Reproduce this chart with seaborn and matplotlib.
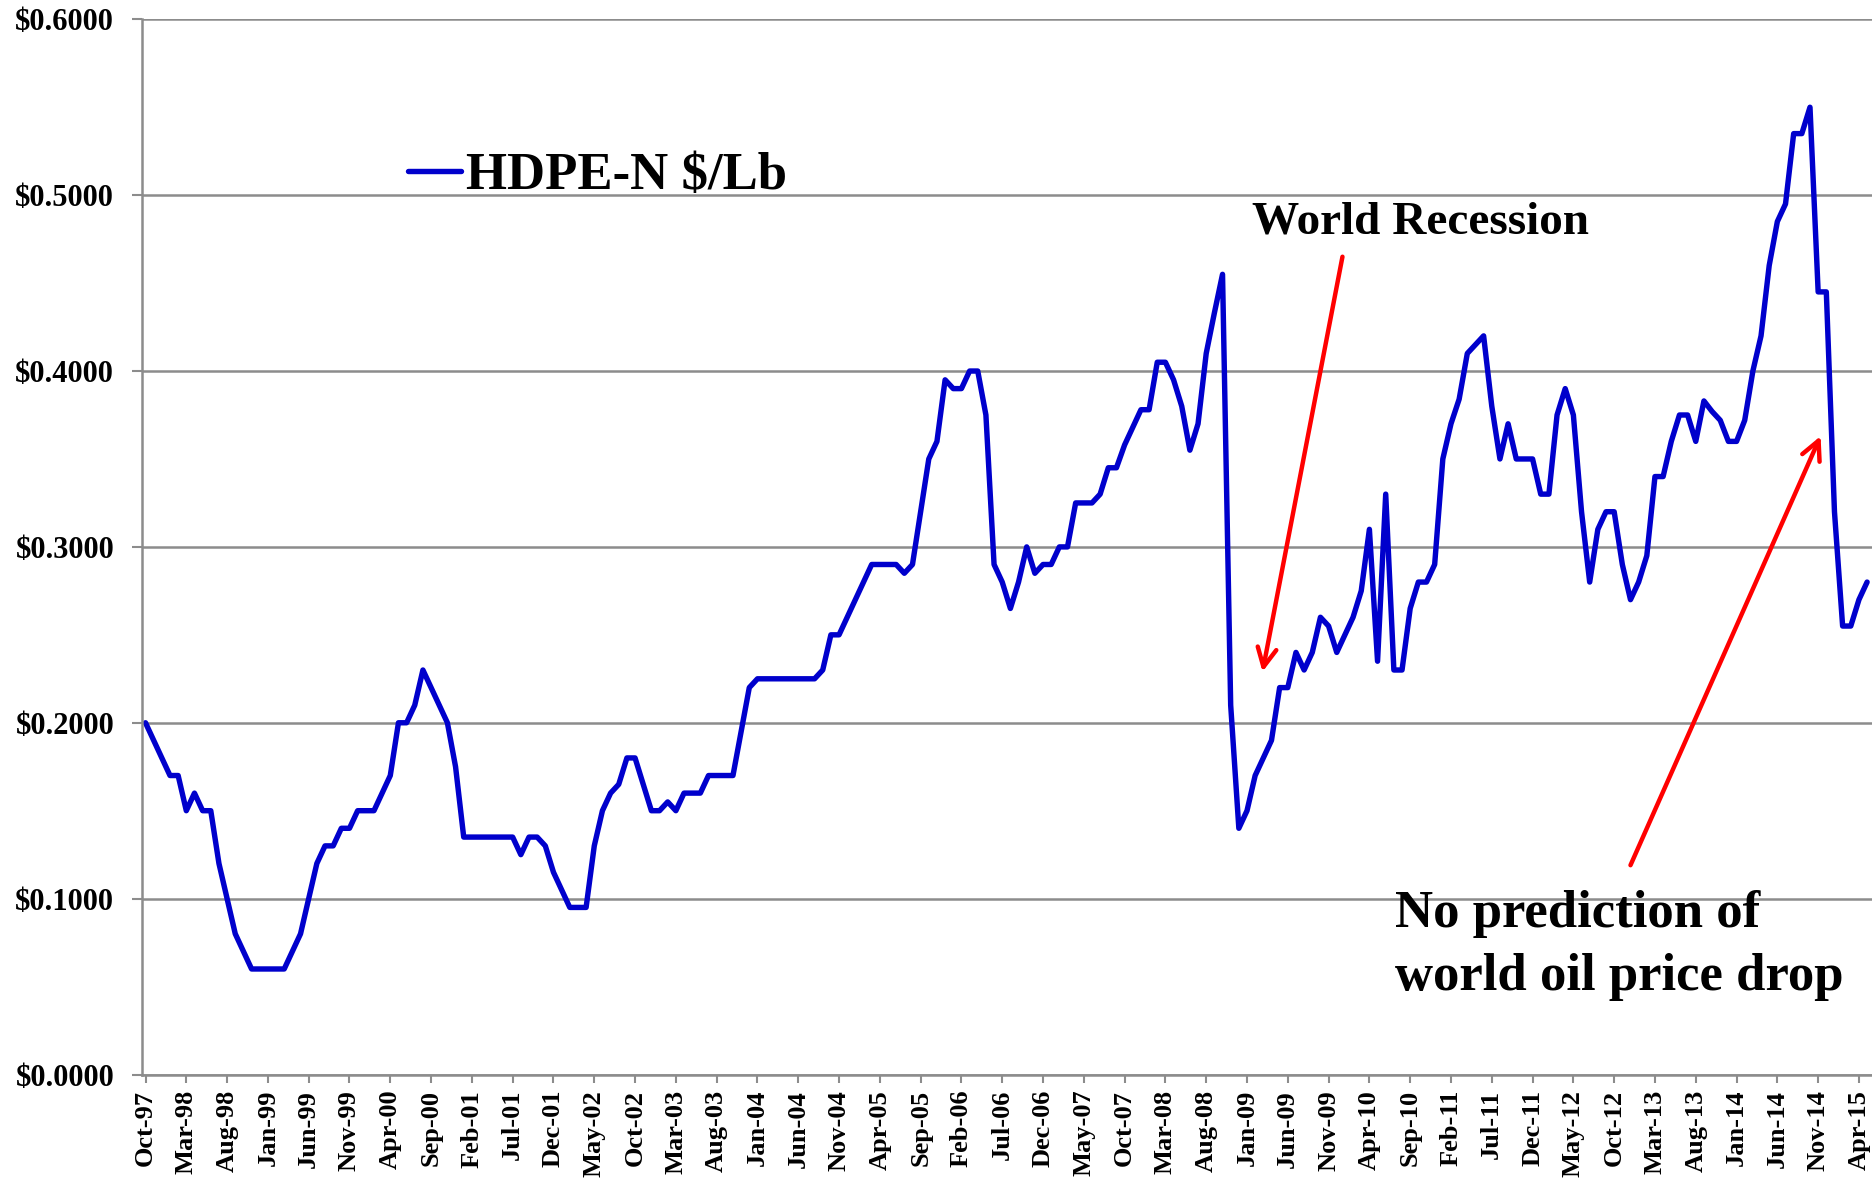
import numpy as np
import pandas as pd
import matplotlib
matplotlib.use("Agg")
import matplotlib.pyplot as plt
from matplotlib import ticker
import seaborn as sns

# monthly HDPE-N price, Oct-97 .. May-15
months = pd.date_range("1997-10-01", periods=212, freq="MS").strftime("%b-%y").tolist()
hdpe = [
    0.200, 0.190, 0.180, 0.170, 0.170, 0.150, 0.160, 0.150, 0.150, 0.120,
    0.100, 0.080, 0.070, 0.060, 0.060, 0.060, 0.060, 0.060, 0.070, 0.080,
    0.100, 0.120, 0.130, 0.130, 0.140, 0.140, 0.150, 0.150, 0.150, 0.160,
    0.170, 0.200, 0.200, 0.210, 0.230, 0.220, 0.210, 0.200, 0.175, 0.135,
    0.135, 0.135, 0.135, 0.135, 0.135, 0.135, 0.125, 0.135, 0.135, 0.130,
    0.115, 0.105, 0.095, 0.095, 0.095, 0.130, 0.150, 0.160, 0.165, 0.180,
    0.180, 0.165, 0.150, 0.150, 0.155, 0.150, 0.160, 0.160, 0.160, 0.170,
    0.170, 0.170, 0.170, 0.195, 0.220, 0.225, 0.225, 0.225, 0.225, 0.225,
    0.225, 0.225, 0.225, 0.230, 0.250, 0.250, 0.260, 0.270, 0.280, 0.290,
    0.290, 0.290, 0.290, 0.285, 0.290, 0.320, 0.350, 0.360, 0.395, 0.390,
    0.390, 0.400, 0.400, 0.375, 0.290, 0.280, 0.265, 0.280, 0.300, 0.285,
    0.290, 0.290, 0.300, 0.300, 0.325, 0.325, 0.325, 0.330, 0.345, 0.345,
    0.358, 0.368, 0.378, 0.378, 0.405, 0.405, 0.395, 0.380, 0.355, 0.370,
    0.410, 0.433, 0.455, 0.210, 0.140, 0.150, 0.170, 0.180, 0.190, 0.220,
    0.220, 0.240, 0.230, 0.240, 0.260, 0.255, 0.240, 0.250, 0.260, 0.275,
    0.310, 0.235, 0.330, 0.230, 0.230, 0.265, 0.280, 0.280, 0.290, 0.350,
    0.370, 0.384, 0.410, 0.415, 0.420, 0.380, 0.350, 0.370, 0.350, 0.350,
    0.350, 0.330, 0.330, 0.375, 0.390, 0.375, 0.320, 0.280, 0.310, 0.320,
    0.320, 0.290, 0.270, 0.280, 0.295, 0.340, 0.340, 0.360, 0.375, 0.375,
    0.360, 0.383, 0.377, 0.372, 0.360, 0.360, 0.372, 0.400, 0.420, 0.460,
    0.485, 0.495, 0.535, 0.535, 0.550, 0.445, 0.445, 0.320, 0.255, 0.255,
    0.270, 0.280,
]
series_label = "HDPE-N $/Lb"
note_recession = "World Recession"
note_oil = ["No prediction of", "world oil price drop"]
tick_every = 5

sns.set_theme(style="white")
plt.rcParams["font.family"] = ["Liberation Serif", "DejaVu Serif"]
plt.rcParams["font.weight"] = "bold"
plt.rcParams["text.color"] = "black"
plt.rcParams["xtick.labelcolor"] = "black"
plt.rcParams["ytick.labelcolor"] = "black"

df = pd.DataFrame({"pos": np.arange(len(hdpe)), "price": hdpe})

fig = plt.figure(figsize=(18.72, 11.81), dpi=100)
ax = fig.add_axes([142 / 1872, 1 - 1074.5 / 1181, 1 - 142 / 1872, (1074.5 - 19.3) / 1181])

sns.lineplot(df, x="pos", y="price", ax=ax, color="#0000CC", lw=3.9, label=series_label)

ax.set_ylim(0, 0.6)
ax.set_xlim(-0.43, 211.6)
ax.yaxis.set_major_locator(ticker.MultipleLocator(0.1))
ax.yaxis.set_major_formatter(lambda v, _: f"${v:.4f}")
ticks = list(range(0, len(months), tick_every))
ax.set_xticks(ticks)
ax.set_xticklabels([months[i] for i in ticks], rotation=90, fontsize=19, fontweight="bold", color="black")
for lab in ax.get_yticklabels():
    lab.set_fontsize(22)
    lab.set_fontweight("bold")
    lab.set_color("black")
ax.tick_params(axis="y", length=7, width=1.5, color="#8c8c8c", labelcolor="black", pad=13, left=True)
ax.tick_params(axis="x", length=6, width=1.5, color="#8c8c8c", labelcolor="black", pad=5, bottom=True)
ax.set_xlabel("")
ax.set_ylabel("")
ax.yaxis.grid(True, color="#8c8c8c", lw=1.8)
ax.xaxis.grid(False)
for s in ["top", "right"]:
    ax.spines[s].set_visible(False)
for s in ["left", "bottom"]:
    ax.spines[s].set_color("#8c8c8c")
    ax.spines[s].set_linewidth(1.8)

leg = ax.legend(loc="center left", bbox_to_anchor=(408 / 1872, 1 - 176 / 1181),
                bbox_transform=fig.transFigure, frameon=False, borderpad=0, borderaxespad=0,
                handlelength=1.0, handletextpad=0.1,
                prop={"family": "Liberation Serif", "weight": "bold", "size": 38})
for t in leg.get_texts():
    t.set_color("black")

arrow = dict(arrowstyle="->", color="red", lw=3.2, mutation_scale=34, shrinkA=0, shrinkB=0)
ax.annotate("", xy=(136.9, 0.229), xytext=(146.7, 0.465), arrowprops=arrow)
ax.annotate("", xy=(205.3, 0.363), xytext=(182.0, 0.119), arrowprops=arrow)

ax.text(135.6, 0.478, note_recession, fontsize=34, fontweight="bold", color="black",
        va="baseline", ha="left")
ax.text(153.1, 0.084, note_oil[0], fontsize=38, fontweight="bold", color="black",
        va="baseline", ha="left")
ax.text(153.1, 0.048, note_oil[1], fontsize=38, fontweight="bold", color="black",
        va="baseline", ha="left")

fig.savefig("out.png", dpi=100)
